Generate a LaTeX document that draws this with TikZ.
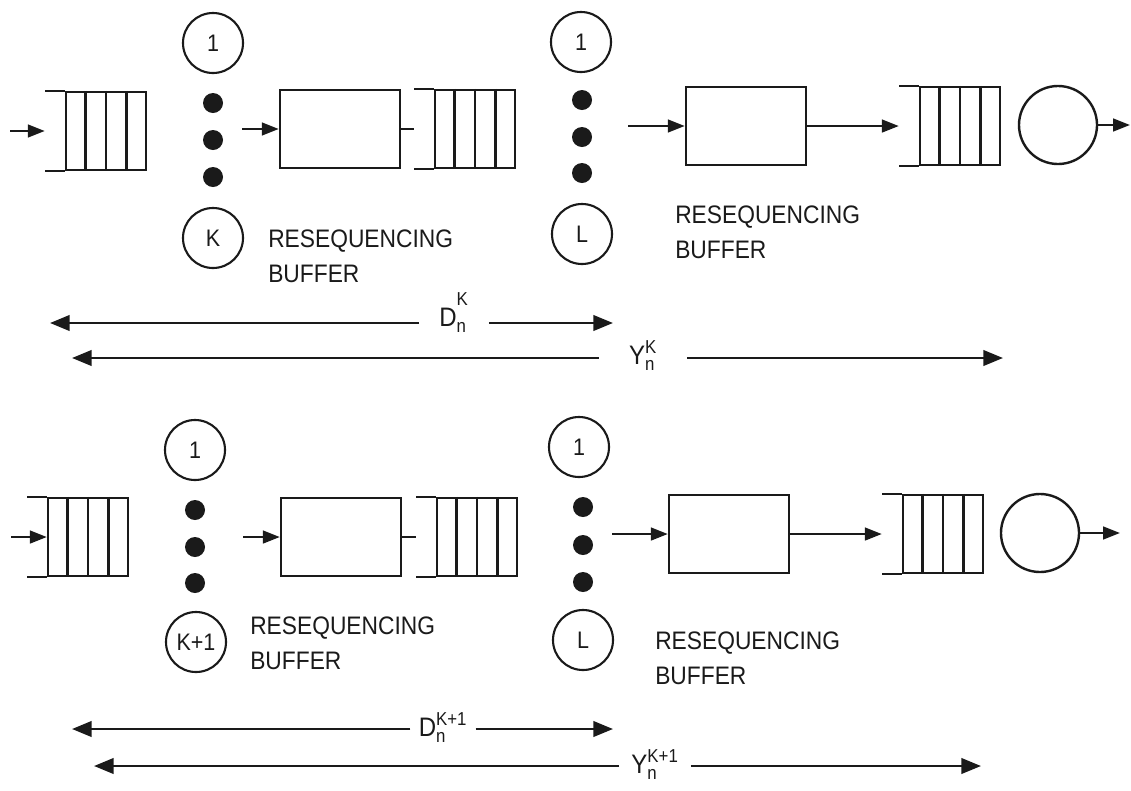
\documentclass[tikz,border=0pt]{standalone}
\usepackage{amsmath}
\usepackage{fontspec}
\setmainfont{Liberation Sans}
\newfontfamily\narrowsans[FakeStretch=0.9]{Liberation Sans}
\usepackage{tikz}
\usetikzlibrary{arrows.meta,positioning,calc}
\definecolor{Ink}{HTML}{1A1A1A}
\tikzset{
  stage/.style={draw=Ink,line width=1.7pt,minimum width=3cm,minimum height=1.95cm,inner sep=0pt},
  queue/.style={draw=Ink,line width=1.7pt,minimum width=2cm,minimum height=1.95cm,inner sep=0pt},
  srv/.style={circle,draw=Ink,line width=1.5pt,minimum size=1.5cm,inner sep=0pt,text=Ink,font=\narrowsans\fontsize{17}{17}\selectfont},
  sink/.style={circle,draw=Ink,line width=1.7pt,minimum size=1.95cm,inner sep=0pt},
  dot/.style={circle,fill=Ink,minimum size=0.5cm,inner sep=0pt},
  buflabel/.style={anchor=west,align=left,inner sep=0pt,text=Ink,font=\narrowsans\fontsize{18}{25}\selectfont},
  dimlabel/.style={anchor=base,inner ysep=0pt,text=Ink,font=\narrowsans\fontsize{19}{19}\selectfont},
  arrow/.style={-{Triangle[length=12pt,width=9pt]},line width=1.7pt,draw=Ink},
  dimArrow/.style={-{Triangle[length=14pt,width=11pt]},line width=1.9pt,draw=Ink},
  stub/.style={line width=1.7pt,draw=Ink}
}
% inner walls and open end of a queue node
\newcommand{\qlines}[1]{%
  \foreach \f in {0.25,0.5,0.75}
    \draw[stub] ($(#1.north west)!\f!(#1.north east)$) -- ($(#1.south west)!\f!(#1.south east)$);
  \draw[stub] (#1.north west) -- ++(-20,0);
  \draw[stub] (#1.south west) -- ++(-20,0);
  \coordinate (#1in) at ($(#1.west)+(-20,0)$);
}
\begin{document}
\begin{tikzpicture}[x=0.025cm,y=-0.025cm]
  \useasboundingbox (0,0) rectangle (1131,790);
  % top row, K servers
  \coordinate (tin) at (10,131);
  \node[queue] (tq1) at (106,131) {};
  \qlines{tq1}
  \draw[arrow] (tin) -- (tq1in);
  \node[srv] (ta1) at (213,43) {1};
  \foreach \y [count=\i] in {103,140,177} \node[dot] (tad\i) at (213,\y) {};
  \node[srv] (taK) at (213,238) {K};
  \coordinate (tb1in) at (242,129);
  \node[stage] (tb1) at (340,129) {};
  \draw[arrow] (tb1in) -- (tb1.west);
  \node[queue] (tq2) at (475,129) {};
  \qlines{tq2}
  \draw[stub] (tb1.east) -- (tq2in);
  \node[srv] (tc1) at (581,42) {1};
  \foreach \y [count=\i] in {100,137,173} \node[dot] (tcd\i) at (582,\y) {};
  \node[srv] (tcL) at (582,234) {L};
  \coordinate (tb2in) at (628,126);
  \node[stage] (tb2) at (746,126) {};
  \draw[arrow] (tb2in) -- (tb2.west);
  \node[queue] (tq3) at (960,126) {};
  \qlines{tq3}
  \draw[arrow] (tb2.east) -- (tq3in);
  \node[sink] (tsink) at (1058,125) {};
  \coordinate (tout) at (1130,125);
  \draw[arrow] (tsink.east) -- (tout);
  \node[buflabel] (tbufA) at (268,256) {RESEQUENCING\\BUFFER};
  \node[buflabel] (tbufB) at (675,232) {RESEQUENCING\\BUFFER};
  % top delays
  \node[dimlabel,inner xsep=0.5cm] (tD) at (454,326) {$\text{D}^{\text{\raisebox{7pt}{K}}}_{\text{n}}$};
  \coordinate (tDl) at (50,323);
  \coordinate (tDr) at (613,323);
  \draw[dimArrow] (tD.west |- tDl) -- (tDl);
  \draw[dimArrow] (tD.east |- tDr) -- (tDr);
  \node[dimlabel,inner xsep=0.75cm] (tY) at (643,364) {$\text{Y}^{\text{K}}_{\text{n}}$};
  \coordinate (tYl) at (72,358);
  \coordinate (tYr) at (1003,358);
  \draw[dimArrow] (tY.west |- tYl) -- (tYl);
  \draw[dimArrow] (tY.east |- tYr) -- (tYr);
  % bottom row, K+1 servers
  \coordinate (bin) at (11,537);
  \node[queue] (bq1) at (88,537) {};
  \qlines{bq1}
  \draw[arrow] (bin) -- (bq1.west);
  \node[srv] (ba1) at (195,450) {1};
  \foreach \y [count=\i] in {510,547,583} \node[dot] (bad\i) at (195,\y) {};
  \node[srv] (baK) at (196,642) {K+1};
  \coordinate (bb1in) at (243,537);
  \node[stage] (bb1) at (341,537) {};
  \draw[arrow] (bb1in) -- (bb1.west);
  \node[queue] (bq2) at (477,537) {};
  \qlines{bq2}
  \draw[stub] (bb1.east) -- (bq2in);
  \node[srv] (bc1) at (579,447) {1};
  \foreach \y [count=\i] in {507,545,582} \node[dot] (bcd\i) at (583,\y) {};
  \node[srv] (bcL) at (583,640) {L};
  \coordinate (bb2in) at (612,534);
  \node[stage] (bb2) at (729,534) {};
  \draw[arrow] (bb2in) -- (bb2.west);
  \node[queue] (bq3) at (943,534) {};
  \qlines{bq3}
  \draw[arrow] (bb2.east) -- (bq3in);
  \node[sink] (bsink) at (1040,533) {};
  \coordinate (bout) at (1120,533);
  \draw[arrow] (bsink.east) -- (bout);
  \node[buflabel] (bbufA) at (250,643) {RESEQUENCING\\BUFFER};
  \node[buflabel] (bbufB) at (655,658) {RESEQUENCING\\BUFFER};
  % bottom delays
  \node[dimlabel,inner xsep=0.2cm] (bD) at (443,736) {$\text{D}^{\text{K+1}}_{\text{n}}$};
  \coordinate (bDl) at (72,729);
  \coordinate (bDr) at (613,729);
  \draw[dimArrow] (bD.west |- bDl) -- (bDl);
  \draw[dimArrow] (bD.east |- bDr) -- (bDr);
  \node[dimlabel,inner xsep=0.3cm] (bY) at (655,773) {$\text{Y}^{\text{K+1}}_{\text{n}}$};
  \coordinate (bYl) at (94,766);
  \coordinate (bYr) at (981,766);
  \draw[dimArrow] (bY.west |- bYl) -- (bYl);
  \draw[dimArrow] (bY.east |- bYr) -- (bYr);
\end{tikzpicture}
\end{document}
